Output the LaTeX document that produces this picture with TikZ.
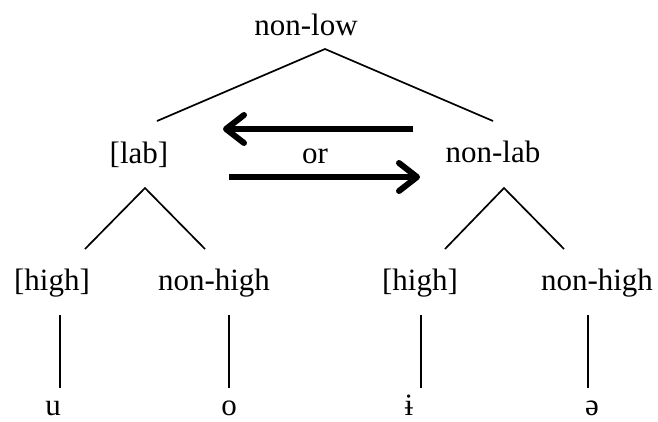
\documentclass[tikz,border=0pt]{standalone}
\usepackage{fontspec}
\setmainfont{Liberation Serif}
\usetikzlibrary{arrows.meta}

\begin{document}
\begin{tikzpicture}[x=1pt,y=-1pt,
  lbl/.style={anchor=base,inner sep=0pt,font=\fontsize{31}{36}\selectfont},
  branch/.style={line width=1.7pt},
  bigarrow/.style={line width=6pt,-{Straight Barb[length=18pt,width=28pt,round]}}]
\useasboundingbox (0,0) rectangle (658,421);
% labels
\node[lbl] (nonlow) at (306,35) {non-low};
\node[lbl] (lab) at (139,163) {[lab]};
\node[lbl] (or) at (315,163) {or};
\node[lbl] (nonlab) at (493,162) {non-lab};
\node[lbl] (lhigh) at (52,290) {[high]};
\node[lbl] (lnonhigh) at (214,290) {non-high};
\node[lbl] (rhigh) at (420,290) {[high]};
\node[lbl] (rnonhigh) at (597,290) {non-high};
\node[lbl] (u) at (53,415) {u};
\node[lbl] (o) at (229,415) {o};
\node[lbl] (ibar) at (409,415) {ɨ};
\node[lbl] (schwa) at (592,415) {ə};
% branch points
\coordinate (nonlow-apex) at (325,49);
\coordinate (lab-end) at (157,121);
\coordinate (nonlab-end) at (493,121);
\coordinate (lab-apex) at (145,188);
\coordinate (lhigh-end) at (85,249);
\coordinate (lnonhigh-end) at (205,249);
\coordinate (nonlab-apex) at (504,188);
\coordinate (rhigh-end) at (445,249);
\coordinate (rnonhigh-end) at (564,249);
\coordinate (u-top) at (60,315);
\coordinate (u-bot) at (60,388);
\coordinate (o-top) at (229,315);
\coordinate (o-bot) at (229,388);
\coordinate (ibar-top) at (421,315);
\coordinate (ibar-bot) at (421,388);
\coordinate (schwa-top) at (588,315);
\coordinate (schwa-bot) at (588,388);
% tree
\draw[branch] (lab-end) -- (nonlow-apex) -- (nonlab-end);
\draw[branch] (lhigh-end) -- (lab-apex) -- (lnonhigh-end);
\draw[branch] (rhigh-end) -- (nonlab-apex) -- (rnonhigh-end);
\draw[branch] (u-top) -- (u-bot);
\draw[branch] (o-top) -- (o-bot);
\draw[branch] (ibar-top) -- (ibar-bot);
\draw[branch] (schwa-top) -- (schwa-bot);
% arrows
\coordinate (back-tail) at (413,129);
\coordinate (back-tip) at (223,129);
\coordinate (fwd-tail) at (229,177);
\coordinate (fwd-tip) at (420,177);
\draw[bigarrow] (back-tail) -- (back-tip);
\draw[bigarrow] (fwd-tail) -- (fwd-tip);
\end{tikzpicture}
\end{document}
